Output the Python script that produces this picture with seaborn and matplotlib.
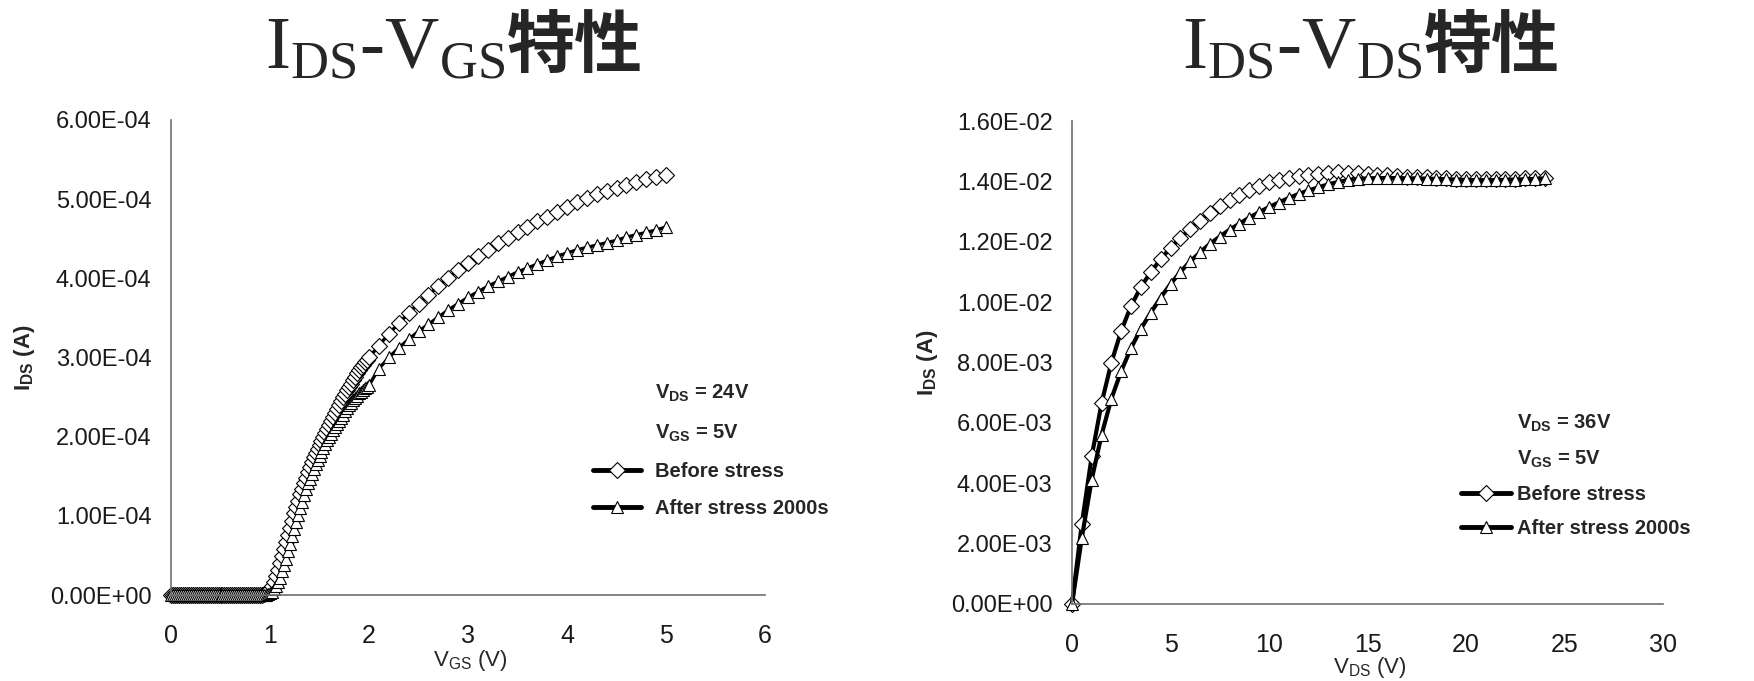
import matplotlib
matplotlib.use("Agg")
import numpy as np
import pandas as pd
import seaborn as sns
import matplotlib.pyplot as plt
from matplotlib.lines import Line2D
from matplotlib.ticker import FuncFormatter, MultipleLocator

# ---------------- data ----------------
# Left panel: IDS-VGS (VDS = 24 V); fine sweep to 2 V, coarse sweep after
vgs_sweep = [0.00, 0.02, 0.04, 0.06, 0.08, 0.10, 0.12, 0.14, 0.16, 0.18,
             0.20, 0.22, 0.24, 0.26, 0.28, 0.30, 0.32, 0.34, 0.36, 0.38,
             0.40, 0.42, 0.44, 0.46, 0.48, 0.50, 0.52, 0.54, 0.56, 0.58,
             0.60, 0.62, 0.64, 0.66, 0.68, 0.70, 0.72, 0.74, 0.76, 0.78,
             0.80, 0.82, 0.84, 0.86, 0.88, 0.90, 0.92, 0.94, 0.96, 0.98,
             1.00, 1.02, 1.04, 1.06, 1.08, 1.10, 1.12, 1.14, 1.16, 1.18,
             1.20, 1.22, 1.24, 1.26, 1.28, 1.30, 1.32, 1.34, 1.36, 1.38,
             1.40, 1.42, 1.44, 1.46, 1.48, 1.50, 1.52, 1.54, 1.56, 1.58,
             1.60, 1.62, 1.64, 1.66, 1.68, 1.70, 1.72, 1.74, 1.76, 1.78,
             1.80, 1.82, 1.84, 1.86, 1.88, 1.90, 1.92, 1.94, 1.96, 1.98,
             2.00,
             2.1, 2.2, 2.3, 2.4, 2.5, 2.6, 2.7, 2.8, 2.9, 3.0,
             3.1, 3.2, 3.3, 3.4, 3.5, 3.6, 3.7, 3.8, 3.9, 4.0,
             4.1, 4.2, 4.3, 4.4, 4.5, 4.6, 4.7, 4.8, 4.9, 5.0]
# in units of 1e-4 A
ids_before_vgs = [0, 0, 0, 0, 0, 0, 0, 0, 0, 0,
                  0, 0, 0, 0, 0, 0, 0, 0, 0, 0,
                  0, 0, 0, 0, 0, 0, 0, 0, 0, 0,
                  0, 0, 0, 0, 0, 0, 0, 0, 0, 0,
                  0, 0, 0, 0, 0, 0, 0, 0.01, 0.03, 0.05,
                  0.08, 0.12, 0.17, 0.24, 0.32, 0.40, 0.49, 0.58, 0.67, 0.76,
                  0.85, 0.94, 1.03, 1.11, 1.19, 1.27, 1.34, 1.41, 1.48, 1.55,
                  1.62, 1.68, 1.74, 1.80, 1.85, 1.90, 1.95, 2.00, 2.05, 2.10,
                  2.15, 2.20, 2.25, 2.30, 2.35, 2.40, 2.45, 2.50, 2.54, 2.59,
                  2.63, 2.67, 2.72, 2.76, 2.80, 2.84, 2.88, 2.91, 2.94, 2.97,
                  3.00,
                  3.15, 3.30, 3.43, 3.56, 3.68, 3.79, 3.90, 4.00, 4.10, 4.19,
                  4.28, 4.36, 4.44, 4.51, 4.58, 4.65, 4.72, 4.78, 4.84, 4.90,
                  4.96, 5.01, 5.06, 5.10, 5.14, 5.18, 5.22, 5.25, 5.28, 5.31]
ids_after_vgs = [0, 0, 0, 0, 0, 0, 0, 0, 0, 0,
                 0, 0, 0, 0, 0, 0, 0, 0, 0, 0,
                 0, 0, 0, 0, 0, 0, 0, 0, 0, 0,
                 0, 0, 0, 0, 0, 0, 0, 0, 0, 0,
                 0, 0, 0, 0, 0, 0, 0, 0, 0, 0.01,
                 0.02, 0.04, 0.07, 0.11, 0.16, 0.22, 0.30, 0.38, 0.46, 0.55,
                 0.65, 0.74, 0.83, 0.92, 1.01, 1.10, 1.18, 1.26, 1.34, 1.41,
                 1.47, 1.53, 1.59, 1.65, 1.71, 1.76, 1.81, 1.86, 1.91, 1.96,
                 2.00, 2.04, 2.08, 2.12, 2.16, 2.20, 2.24, 2.28, 2.32, 2.36,
                 2.40, 2.43, 2.46, 2.49, 2.52, 2.55, 2.57, 2.59, 2.61, 2.63,
                 2.65,
                 2.86, 3.00, 3.12, 3.23, 3.33, 3.42, 3.51, 3.60, 3.68, 3.76,
                 3.83, 3.90, 3.96, 4.02, 4.08, 4.13, 4.18, 4.23, 4.28, 4.32,
                 4.36, 4.39, 4.42, 4.45, 4.48, 4.52, 4.55, 4.58, 4.61, 4.65]

# Right panel: IDS-VDS (VGS = 5 V)
vds_sweep = [0.0, 0.5, 1.0, 1.5, 2.0, 2.5, 3.0, 3.5, 4.0, 4.5,
             5.0, 5.5, 6.0, 6.5, 7.0, 7.5, 8.0, 8.5, 9.0, 9.5,
             10.0, 10.5, 11.0, 11.5, 12.0, 12.5, 13.0, 13.5, 14.0, 14.5,
             15.0, 15.5, 16.0, 16.5, 17.0, 17.5, 18.0, 18.5, 19.0, 19.5,
             20.0, 20.5, 21.0, 21.5, 22.0, 22.5, 23.0, 23.5, 24.0]
# in units of 1e-3 A
ids_before_vds = [0.0, 2.66, 4.89, 6.65, 8.00, 9.05, 9.88, 10.50, 11.00, 11.42,
                  11.80, 12.12, 12.42, 12.70, 12.95, 13.17, 13.37, 13.55, 13.70, 13.85,
                  13.97, 14.06, 14.12, 14.17, 14.21, 14.25, 14.28, 14.30, 14.29, 14.27,
                  14.24, 14.22, 14.20, 14.18, 14.16, 14.15, 14.13, 14.11, 14.10, 14.09,
                  14.08, 14.07, 14.07, 14.07, 14.08, 14.09, 14.10, 14.11, 14.12]
ids_after_vds = [0.0, 2.20, 4.12, 5.60, 6.80, 7.72, 8.48, 9.12, 9.65, 10.15,
                 10.60, 11.00, 11.35, 11.65, 11.93, 12.17, 12.40, 12.60, 12.80, 12.98,
                 13.15, 13.30, 13.45, 13.58, 13.70, 13.80, 13.90, 13.98, 14.04, 14.08,
                 14.10, 14.11, 14.11, 14.11, 14.10, 14.10, 14.09, 14.08, 14.07, 14.06,
                 14.05, 14.04, 14.04, 14.04, 14.05, 14.06, 14.07, 14.08, 14.10]

left_xticks = [0, 1, 2, 3, 4, 5, 6]
right_xticks = [0, 5, 10, 15, 20, 25, 30]
series_labels = ["Before stress", "After stress 2000s"]
left_conditions = [r"V$_{\mathregular{DS}}$ = 24V", r"V$_{\mathregular{GS}}$ = 5V"]
right_conditions = [r"V$_{\mathregular{DS}}$ = 36V", r"V$_{\mathregular{GS}}$ = 5V"]

# ---------------- style ----------------
sns.set_style("white")
plt.rcParams["font.family"] = ["Liberation Sans", "DejaVu Sans"]
plt.rcParams["mathtext.default"] = "regular"

W, H = 1754, 681
fig = plt.figure(figsize=(W / 100, H / 100), dpi=100)
axL = fig.add_axes([171 / W, 1 - 595 / H, 594 / W, 475 / H])
axR = fig.add_axes([1072 / W, 1 - 604 / H, 591 / W, 483 / H])

base_kw = dict(color="black", markersize=8.5, markerfacecolor="white",
               markeredgecolor="black", markeredgewidth=0.8, clip_on=False,
               sort=False, estimator=None, legend=False)

dfL = pd.DataFrame({"v": vgs_sweep,
                    "b": np.array(ids_before_vgs) * 1e-4,
                    "a": np.array(ids_after_vgs) * 1e-4})
dfR = pd.DataFrame({"v": vds_sweep,
                    "b": np.array(ids_before_vds) * 1e-3,
                    "a": np.array(ids_after_vds) * 1e-3})

for ax, df, lw in ((axL, dfL, 2.4), (axR, dfR, 3.0)):
    sns.lineplot(data=df, x="v", y="b", ax=ax, marker="D", linewidth=lw, **base_kw)
    sns.lineplot(data=df, x="v", y="a", ax=ax, marker="^", linewidth=lw, **base_kw)

sci = FuncFormatter(lambda v, p: f"{v:.2E}")
spine_c = "#707070"
for ax in (axL, axR):
    for s in ("top", "right"):
        ax.spines[s].set_visible(False)
    for s in ("left", "bottom"):
        ax.spines[s].set_color(spine_c)
        ax.spines[s].set_linewidth(1.2)
    ax.yaxis.set_major_formatter(sci)
    ax.tick_params(axis="both", direction="out", length=6, width=1.2,
                   color=spine_c, labelcolor="#1a1a1a")
    ax.tick_params(axis="x", pad=15, labelsize=18)
    ax.tick_params(axis="y", pad=8, labelsize=17)
    ax.set_facecolor("white")

axL.set_xlim(0, 6)
axL.set_ylim(0, 6e-4)
axL.set_xticks(left_xticks)
axL.yaxis.set_major_locator(MultipleLocator(1e-4))
axR.set_xlim(0, 30)
axR.set_ylim(0, 1.6e-2)
axR.set_xticks(right_xticks)
axR.yaxis.set_major_locator(MultipleLocator(2e-3))

axL.set_xlabel(r"V$_{\mathregular{GS}}$ (V)", fontsize=16)
axR.set_xlabel(r"V$_{\mathregular{DS}}$ (V)", fontsize=16)
for ax in (axL, axR):
    ax.set_ylabel(r"I$_{\mathregular{DS}}$ (A)", fontsize=16, fontweight="bold")
    ax.xaxis.label.set_va("center")
    ax.yaxis.label.set_va("center")
axL.xaxis.set_label_coords(0.504, -0.137)
axR.xaxis.set_label_coords(0.504, -0.1325)
axL.yaxis.set_label_coords(-0.246, 0.5)
axR.yaxis.set_label_coords(-0.2437, 0.5)

# ---------------- legends ----------------
def make_legend(ax, conds, anchor, hl, htp, ls):
    blank = [Line2D([], [], linestyle="none") for _ in conds]
    hb = Line2D([], [], color="black", lw=3.5, marker="D", ms=8,
                mfc="white", mec="black", mew=0.8)
    ha = Line2D([], [], color="black", lw=3.5, marker="^", ms=8.5,
                mfc="white", mec="black", mew=0.8)
    leg = ax.legend(blank + [hb, ha], conds + series_labels, loc="upper left",
                    bbox_to_anchor=anchor, frameon=False, borderpad=0,
                    borderaxespad=0, handlelength=hl, handletextpad=htp,
                    labelspacing=ls, prop=dict(family="Liberation Sans",
                                               weight="bold", size=14.5))
    return leg

make_legend(axL, left_conditions, (0.711, 0.446), 2.35, 0.7, 0.9)
make_legend(axR, right_conditions, (0.658, 0.397), 2.5, 0.3, 0.74)

# ---------------- titles ----------------
def make_title(sub, base_y):
    t1 = fig.text(0, base_y, r"I$_{\mathregular{DS}}$-V$_{\mathregular{" + sub + "}}$",
                  family="Liberation Serif", size=54, va="baseline", ha="left")
    t2 = fig.text(0, base_y, "特性", family=["Noto Sans CJK JP", "DejaVu Sans"],
                  weight="bold", size=49, va="baseline", ha="left")
    return t1, t2

title_centers = (453, 1370)
titles = [make_title("GS", 1 - 68 / H), make_title("DS", 1 - 68 / H)]
fig.canvas.draw()
r = fig.canvas.get_renderer()
for (t1, t2), cx in zip(titles, title_centers):
    w1 = t1.get_window_extent(r).width
    w2 = t2.get_window_extent(r).width
    x0 = cx - (w1 + w2) / 2
    t1.set_x(x0 / W)
    t2.set_x((x0 + w1 + 2) / W)

fig.savefig("out.png", dpi=100, facecolor="white")
